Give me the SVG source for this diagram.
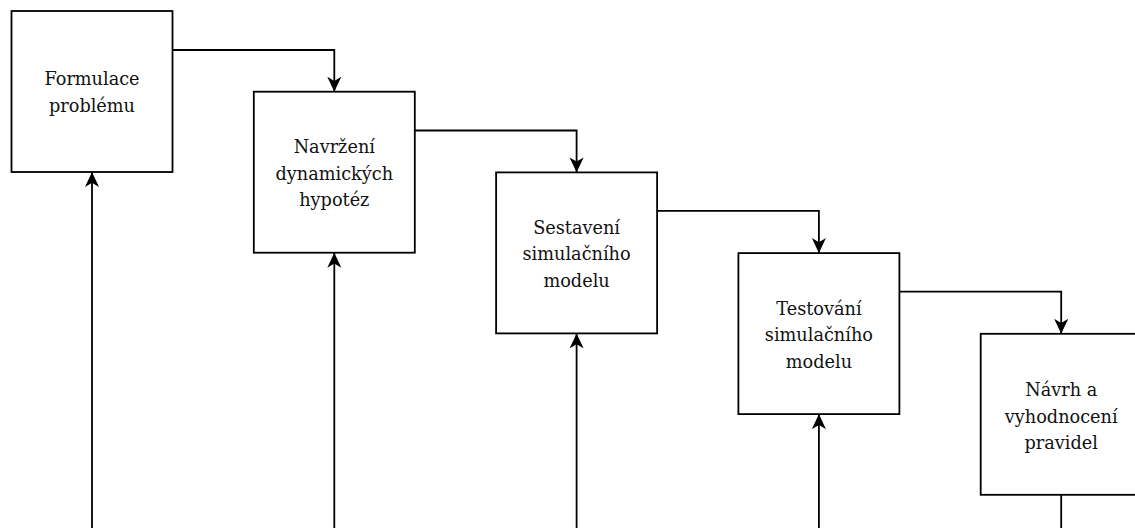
<svg xmlns="http://www.w3.org/2000/svg" width="1135" height="528" viewBox="0 0 1135 528">
<style>
.box{fill:#fff;stroke:#000;stroke-width:1.8}
.lbl{font-family:"DejaVu Serif","Liberation Serif",serif;font-size:17.7px;fill:#111;text-anchor:middle}
.edge{fill:none;stroke:#000;stroke-width:1.8}
</style>
<defs>
<marker id="arr" viewBox="0 0 16 16" refX="16" refY="8" markerWidth="15" markerHeight="15" markerUnits="userSpaceOnUse" orient="auto">
<path d="M16,8 L0,0.5 L4.5,8 L0,15.5 Z" fill="#000"/>
</marker>
</defs>
<rect width="1135" height="528" fill="#fff"/>
<g id="connectors">
<path class="edge" d="M172.5,50 H334.3 V91.7" marker-end="url(#arr)"/>
<path class="edge" d="M414.8,130.5 H576.6 V172.4" marker-end="url(#arr)"/>
<path class="edge" d="M657.1,210.8 H818.9 V253.1" marker-end="url(#arr)"/>
<path class="edge" d="M899.4,291.7 H1061.2 V333.8" marker-end="url(#arr)"/>
<path class="edge" d="M92,528 V172" marker-end="url(#arr)"/>
<path class="edge" d="M334.3,528 V252.7" marker-end="url(#arr)"/>
<path class="edge" d="M576.6,528 V333.4" marker-end="url(#arr)"/>
<path class="edge" d="M818.9,528 V414.1" marker-end="url(#arr)"/>
<path class="edge" d="M1061.2,494.8 V528"/>
</g>
<g id="n1">
<rect class="box" x="11.5" y="11" width="161" height="161"/>
<text class="lbl" x="92" y="85">Formulace</text>
<text class="lbl" x="92" y="112">problému</text>
</g>
<g id="n2">
<rect class="box" x="253.8" y="91.7" width="161" height="161"/>
<text class="lbl" x="334.3" y="153">Navržení</text>
<text class="lbl" x="334.3" y="179.5">dynamických</text>
<text class="lbl" x="334.3" y="206">hypotéz</text>
</g>
<g id="n3">
<rect class="box" x="496.1" y="172.4" width="161" height="161"/>
<text class="lbl" x="576.6" y="233.5">Sestavení</text>
<text class="lbl" x="576.6" y="260">simulačního</text>
<text class="lbl" x="576.6" y="286.5">modelu</text>
</g>
<g id="n4">
<rect class="box" x="738.4" y="253.1" width="161" height="161"/>
<text class="lbl" x="818.9" y="314.5">Testování</text>
<text class="lbl" x="818.9" y="341">simulačního</text>
<text class="lbl" x="818.9" y="367.5">modelu</text>
</g>
<g id="n5">
<rect class="box" x="980.7" y="333.8" width="161" height="161"/>
<text class="lbl" x="1061.2" y="396">Návrh a</text>
<text class="lbl" x="1061.2" y="422.5">vyhodnocení</text>
<text class="lbl" x="1061.2" y="449">pravidel</text>
</g>
</svg>
